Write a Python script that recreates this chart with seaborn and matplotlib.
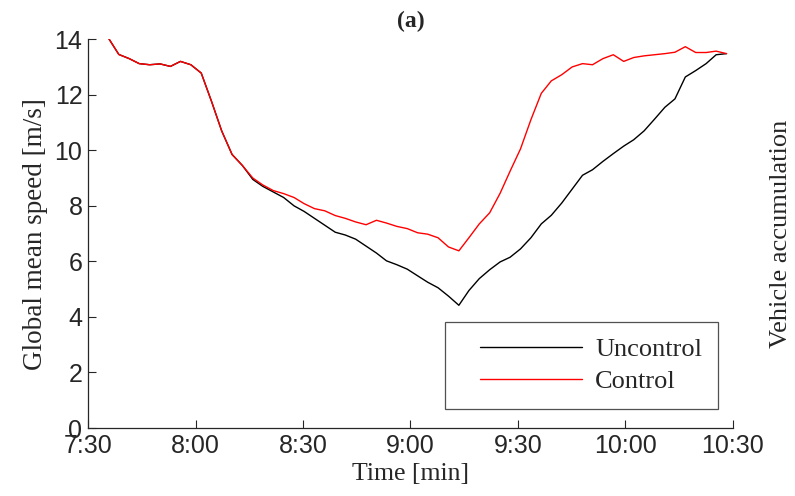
import matplotlib
matplotlib.use("Agg")
import matplotlib.pyplot as plt
from matplotlib.legend_handler import HandlerLine2D
import seaborn as sns
import pandas as pd
import numpy as np

# minutes after 7:30
minutes = [5.7, 8.6, 11.5, 14.3, 17.2, 20.1, 23.0, 25.8, 28.7, 31.6,
           34.5, 37.3, 40.2, 43.1, 46.0, 48.8, 51.7, 54.6, 57.5, 60.3,
           63.2, 66.1, 69.0, 71.8, 74.7, 77.6, 80.5, 83.3, 86.2, 89.1,
           92.0, 94.8, 97.7, 100.6, 103.5, 106.3, 109.2, 112.1, 115.0, 117.8,
           120.7, 123.6, 126.5, 129.3, 132.2, 135.1, 138.0, 140.8, 143.7, 146.6,
           149.5, 152.3, 155.2, 158.1, 161.0, 163.8, 166.7, 169.6, 172.5, 175.3,
           178.2]

uncontrol = [14.04, 13.45, 13.3, 13.12, 13.08, 13.11, 13.02, 13.2, 13.08, 12.78,
             11.75, 10.7, 9.85, 9.45, 8.95, 8.7, 8.5, 8.3, 8.0, 7.8,
             7.55, 7.3, 7.05, 6.95, 6.8, 6.55, 6.3, 6.02, 5.88, 5.72,
             5.48, 5.25, 5.05, 4.75, 4.42, 4.95, 5.38, 5.7, 5.98, 6.15,
             6.45, 6.85, 7.35, 7.66, 8.1, 8.6, 9.1, 9.3, 9.6, 9.88,
             10.15, 10.38, 10.7, 11.12, 11.55, 11.85, 12.64, 12.87, 13.12, 13.44,
             13.48]

control = [14.04, 13.45, 13.3, 13.12, 13.08, 13.11, 13.02, 13.2, 13.08, 12.78,
           11.75, 10.7, 9.85, 9.45, 9.0, 8.75, 8.55, 8.44, 8.3, 8.08,
           7.9, 7.82, 7.65, 7.55, 7.42, 7.32, 7.48, 7.38, 7.26, 7.18,
           7.03, 6.98, 6.85, 6.52, 6.38, 6.85, 7.35, 7.75, 8.45, 9.25,
           10.05, 11.1, 12.05, 12.5, 12.72, 13.0, 13.12, 13.08, 13.3, 13.44,
           13.2, 13.34, 13.4, 13.44, 13.48, 13.53, 13.73, 13.52, 13.52, 13.57,
           13.48]

tick_pos = [0, 30, 60, 90, 120, 150, 180]
tick_labels = ["7:30", "8:00", "8:30", "9:00", "9:30", "10:00", "10:30"]

df = pd.DataFrame({
    "t": minutes * 2,
    "speed": uncontrol + control,
    "case": ["Uncontrol"] * len(minutes) + ["Control"] * len(minutes),
})

sns.set_theme(style="white")
plt.rcParams["font.family"] = ["Liberation Sans", "DejaVu Sans"]
serif = ["Liberation Serif", "DejaVu Serif"]
ink = "#262626"


class InsetLine(HandlerLine2D):
    # legend line that starts a bit inside the handle box, like MATLAB
    def create_artists(self, legend, orig_handle, xdescent, ydescent,
                       width, height, fontsize, trans):
        arts = super().create_artists(legend, orig_handle, xdescent, ydescent,
                                      width, height, fontsize, trans)
        xd = np.asarray(arts[0].get_xdata(), dtype=float)
        arts[0].set_xdata(np.linspace(xd[0] + 0.16 * width, xd[-1], len(xd)))
        return arts


fig = plt.figure(figsize=(7.95, 4.96), dpi=100)
ax = fig.add_axes([0.1107, 0.137, 0.8113, 0.784])

sns.lineplot(data=df, x="t", y="speed", hue="case",
             palette={"Uncontrol": "#000000", "Control": "#ff0000"},
             linewidth=1.0, ax=ax, legend=False)

ax.set_xlim(0, 180)
ax.set_ylim(0, 14)
ax.set_xticks(tick_pos)
ax.set_xticklabels(tick_labels)
ax.set_yticks(range(0, 15, 2))
ax.tick_params(direction="in", length=6, width=0.8, labelsize=18,
               colors=ink, pad=4, left=True, bottom=True)
for side in ["top", "right"]:
    ax.spines[side].set_visible(False)
for side in ["left", "bottom"]:
    ax.spines[side].set_color(ink)
    ax.spines[side].set_linewidth(0.9)

ax.set_xlabel("Time [min]", family=serif, fontsize=18.5, labelpad=4, color=ink)
ax.set_ylabel("Global mean speed [m/s]", family=serif, fontsize=19.5, labelpad=5, color=ink)
ax.set_title("(a)", family=serif, fontsize=17, fontweight="bold", pad=9)

ax2 = ax.twinx()
ax2.set_ylim(0, 14)
ax2.set_yticks([])
for side in ax2.spines:
    ax2.spines[side].set_visible(False)
ax2.set_ylabel("Vehicle accumulation", family=serif, fontsize=19, labelpad=27, color=ink)

handles = [plt.Line2D([], [], color="#000000", lw=1.0),
           plt.Line2D([], [], color="#ff0000", lw=1.0)]
leg = ax.legend(handles, ["Uncontrol", "Control"], loc="lower right",
                bbox_to_anchor=(0.977, 0.05), borderaxespad=0,
                prop={"family": serif, "size": 19},
                frameon=True, fancybox=False, handlelength=4.6, handletextpad=0.5,
                borderpad=0.6, labelspacing=0.3,
                handler_map={plt.Line2D: InsetLine()})
leg.get_frame().set_edgecolor(ink)
leg.get_frame().set_linewidth(0.9)

fig.savefig("out.png", dpi=100)
